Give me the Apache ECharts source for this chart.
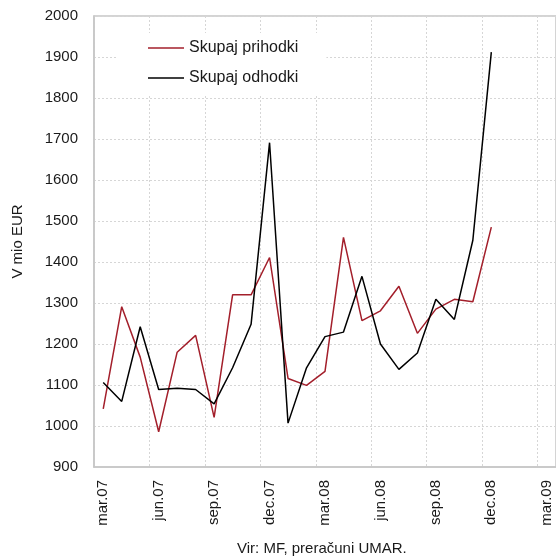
<!DOCTYPE html>
<html>
<head>
<meta charset="utf-8">
<script src="https://cdn.jsdelivr.net/npm/echarts@6/dist/echarts.min.js"></script>
<style>
  html, body { margin: 0; padding: 0; background: #fff; }
  #chart { width: 556px; height: 560px; }
</style>
</head>
<body>
<div id="chart"></div>
<script>
// Months from March 2007 to March 2009 (Slovene abbreviations)
const months = [
  'mar.07', 'apr.07', 'maj.07', 'jun.07', 'jul.07', 'avg.07', 'sep.07', 'okt.07', 'nov.07', 'dec.07',
  'jan.08', 'feb.08', 'mar.08', 'apr.08', 'maj.08', 'jun.08', 'jul.08', 'avg.08', 'sep.08', 'okt.08',
  'nov.08', 'dec.08', 'jan.09', 'feb.09', 'mar.09'
];

// Total revenues, EUR million
const prihodki = [
  1042, 1291, 1168, 986, 1180, 1221, 1021, 1320, 1320, 1411,
  1116, 1099, 1133, 1460, 1257, 1281, 1341, 1226, 1285, 1309,
  1303, 1485
];

// Total expenditures, EUR million
const odhodki = [
  1106, 1060, 1242, 1089, 1092, 1089, 1054, 1142, 1248, 1691,
  1007, 1142, 1218, 1229, 1365, 1200, 1138, 1178, 1309, 1260,
  1453, 1912
];

const yMin = 900, yMax = 2000, yStep = 100;
const FONT = '"Liberation Sans", Arial, sans-serif';
const TEXT = '#1a1a1a';
const RED = '#a31f2b';

const chart = echarts.init(document.getElementById('chart'), null, { renderer: 'canvas' });

chart.setOption({
  animation: false,
  backgroundColor: '#ffffff',
  textStyle: { fontFamily: FONT, color: TEXT },
  grid: {
    left: 94, right: 0, top: 16, bottom: 93,
    show: true,
    borderColor: '#c6c6c6',
    borderWidth: 1.5,
    containLabel: false
  },
  legend: {
    orient: 'vertical',
    left: 118,
    top: 33,
    padding: [7, 28, 10, 30],
    itemGap: 14,
    itemWidth: 36,
    itemHeight: 1.5,
    icon: 'rect',
    backgroundColor: '#ffffff',
    textStyle: { fontFamily: FONT, fontSize: 16, color: TEXT, lineHeight: 16 },
    data: ['Skupaj prihodki', 'Skupaj odhodki']
  },
  xAxis: {
    type: 'category',
    data: months,
    boundaryGap: true,
    axisLine: { show: true, lineStyle: { color: '#c6c6c6', width: 1.5 } },
    axisTick: { show: false, interval: 2 },
    axisLabel: {
      interval: 2,
      rotate: 90,
      margin: 13,
      fontFamily: FONT,
      fontSize: 15,
      color: TEXT
    },
    splitLine: {
      show: true,
      interval: 2,
      lineStyle: { color: '#d6d6d6', type: [2, 2], width: 1 }
    }
  },
  yAxis: {
    type: 'value',
    min: yMin,
    max: yMax,
    interval: yStep,
    name: 'V mio EUR',
    nameLocation: 'middle',
    nameRotate: 90,
    nameGap: 69,
    nameTextStyle: { fontFamily: FONT, fontSize: 15, color: TEXT },
    axisLine: { show: true, lineStyle: { color: '#c6c6c6', width: 1.5 } },
    axisTick: { show: false },
    axisLabel: {
      margin: 16,
      fontFamily: FONT,
      fontSize: 15,
      color: TEXT,
      formatter: (v) => String(v)
    },
    splitLine: {
      show: true,
      lineStyle: { color: '#d6d6d6', type: [2, 2], width: 1 }
    }
  },
  series: [
    {
      name: 'Skupaj prihodki',
      type: 'line',
      data: prihodki,
      symbol: 'none',
      color: RED,
      lineStyle: { color: RED, width: 1.5 },
      z: 2
    },
    {
      name: 'Skupaj odhodki',
      type: 'line',
      data: odhodki,
      symbol: 'none',
      color: '#000000',
      lineStyle: { color: '#000000', width: 1.5 },
      z: 3
    }
  ],
  graphic: [
    {
      type: 'text',
      left: 237,
      top: 541,
      style: {
        text: 'Vir: MF, preračuni UMAR.',
        font: '15px ' + FONT,
        fill: TEXT
      }
    }
  ]
});
</script>
</body>
</html>
